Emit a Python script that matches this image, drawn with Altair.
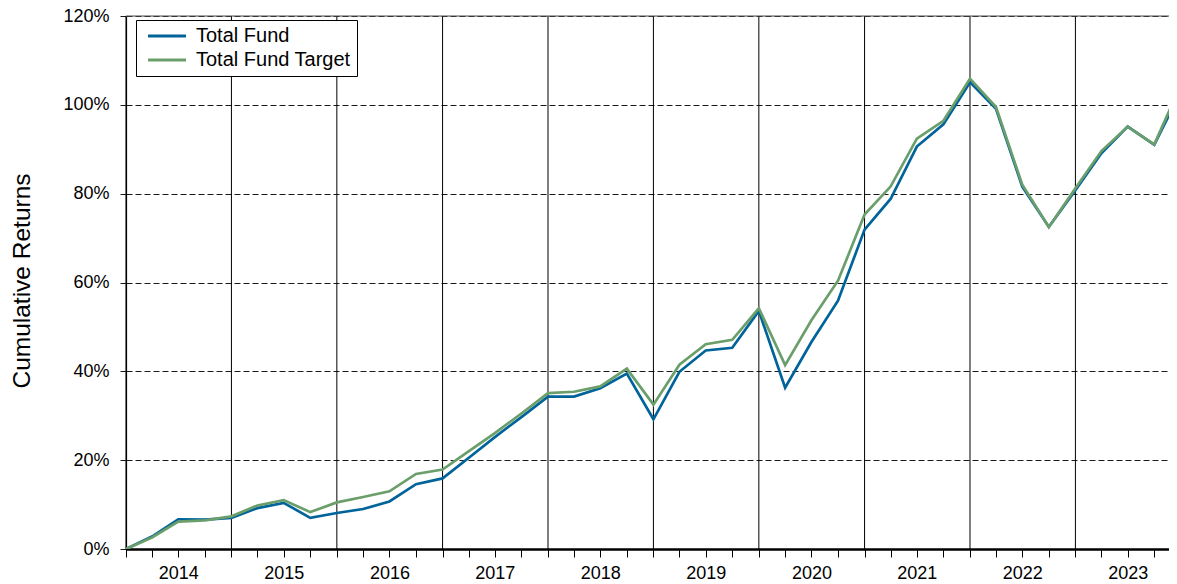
import altair as alt
import pandas as pd

# Quarter-end dates
dates = [
    "2013-12-31",
    "2014-03-31", "2014-06-30", "2014-09-30", "2014-12-31",
    "2015-03-31", "2015-06-30", "2015-09-30", "2015-12-31",
    "2016-03-31", "2016-06-30", "2016-09-30", "2016-12-31",
    "2017-03-31", "2017-06-30", "2017-09-30", "2017-12-31",
    "2018-03-31", "2018-06-30", "2018-09-30", "2018-12-31",
    "2019-03-31", "2019-06-30", "2019-09-30", "2019-12-31",
    "2020-03-31", "2020-06-30", "2020-09-30", "2020-12-31",
    "2021-03-31", "2021-06-30", "2021-09-30", "2021-12-31",
    "2022-03-31", "2022-06-30", "2022-09-30", "2022-12-31",
    "2023-03-31", "2023-06-30", "2023-09-30", "2023-12-31",
]

# Cumulative returns (%)
total_fund = [
    0.0,
    2.8, 6.7, 6.6, 7.0,
    9.2, 10.4, 7.0, 8.1,
    9.0, 10.7, 14.6, 15.9,
    20.5, 25.2, 29.7, 34.3,
    34.3, 36.2, 39.5, 29.2,
    39.9, 44.7, 45.3, 53.6,
    36.3, 46.6, 55.9, 71.9,
    78.8, 90.6, 95.6, 105.1,
    99.1, 81.6, 72.5, 80.8,
    89.1, 95.1, 91.0, 103.0,
]
total_fund_target = [
    0.0,
    2.6, 6.15, 6.45, 7.35,
    9.8, 11.0, 8.3, 10.5,
    11.7, 13.0, 16.9, 17.9,
    22.0, 26.1, 30.5, 35.1,
    35.4, 36.6, 40.6, 32.5,
    41.5, 46.1, 47.1, 54.2,
    41.4, 51.5, 60.4, 75.3,
    81.6, 92.4, 96.4, 105.9,
    99.5, 82.0, 72.5, 81.2,
    89.6, 95.1, 91.1, 104.5,
]
series_names = ["Total Fund", "Total Fund Target"]
series_colors = ["#00639a", "#6a9e6a"]
y_ticks = [0, 20, 40, 60, 80, 100, 120]
domain_start = "2013-12-31"
domain_end = "2023-11-20"

def ms(d):
    return int(pd.Timestamp(d, tz="UTC").value // 10**6)

df = pd.DataFrame({
    "date": dates * 2,
    "value": total_fund + total_fund_target,
    "series": [series_names[0]] * len(dates) + [series_names[1]] * len(dates),
})
year_ends = pd.DataFrame({"date": [d for d in dates if d.endswith("12-31")]})
top_df = pd.DataFrame({"value": [y_ticks[-1]]})

FONT = "Liberation Sans"
W = 1043
H = 533
xscale = alt.Scale(type="utc", domain=[ms(domain_start), ms(domain_end)])
yscale = alt.Scale(domain=[y_ticks[0], y_ticks[-1]], nice=False, zero=False)

x_axis = alt.Axis(
    values=[ms(d) for d in dates],
    labelExpr="utcmonth(datum.value) == 5 ? utcFormat(datum.value, '%Y') : ''",
    title=None, grid=False,
    tickSize=8, tickColor="black", tickWidth=1,
    domainColor="black", domainWidth=2.5,
    labelFont=FONT, labelFontSize=18, labelColor="black", labelPadding=7,
    labelOverlap=False, labelFlush=False, labelBound=False,
)
y_axis = alt.Axis(
    values=y_ticks, labelExpr="datum.value + '%'",
    title="Cumulative Returns", titleFont=FONT, titleFontSize=24.5,
    titleFontWeight="normal", titleColor="black",
    titleAngle=270, titleAlign="center", titleBaseline="middle",
    titleX=-104, titleY=H / 2 - 2,
    grid=True, gridDash=[6, 3], gridColor="#1a1a1a", gridWidth=1,
    tickSize=9, tickDash=[6, 3], tickColor="#1a1a1a", tickWidth=1,
    domainColor="black", domainWidth=1.2,
    labelFont=FONT, labelFontSize=18, labelColor="black", labelPadding=8,
)

rules = alt.Chart(year_ends).mark_rule(color="black", strokeWidth=1).encode(
    x=alt.X("date:T", scale=xscale, axis=x_axis)
)
top = alt.Chart(top_df).mark_rule(color="#555555", strokeWidth=1).encode(
    y=alt.Y("value:Q", scale=yscale, axis=y_axis)
)
lines = alt.Chart(df).mark_line(strokeWidth=2.7, clip=True).encode(
    x=alt.X("date:T", scale=xscale, axis=x_axis),
    y=alt.Y("value:Q", scale=yscale, axis=y_axis),
    color=alt.Color(
        "series:N",
        scale=alt.Scale(domain=series_names, range=series_colors),
        legend=alt.Legend(
            orient="none", legendX=10, legendY=4, title=None,
            fillColor="white", strokeColor="black", padding=6,
            symbolType="M-1,0L3.75,0", symbolSize=256, symbolStrokeWidth=3,
            symbolOffset=4, labelOffset=30, rowPadding=4,
            labelFont=FONT, labelFontSize=20, labelColor="black",
        ),
    ),
)

chart = alt.layer(rules, top, lines).properties(
    width=W, height=H,
    autosize=alt.AutoSizeParams(type="none"),
    padding={"left": 118, "top": 8, "right": 0, "bottom": 40},
).configure_view(stroke=None).configure(background="white")

chart.save("out.html", embed_options={"renderer": "svg", "actions": False})
